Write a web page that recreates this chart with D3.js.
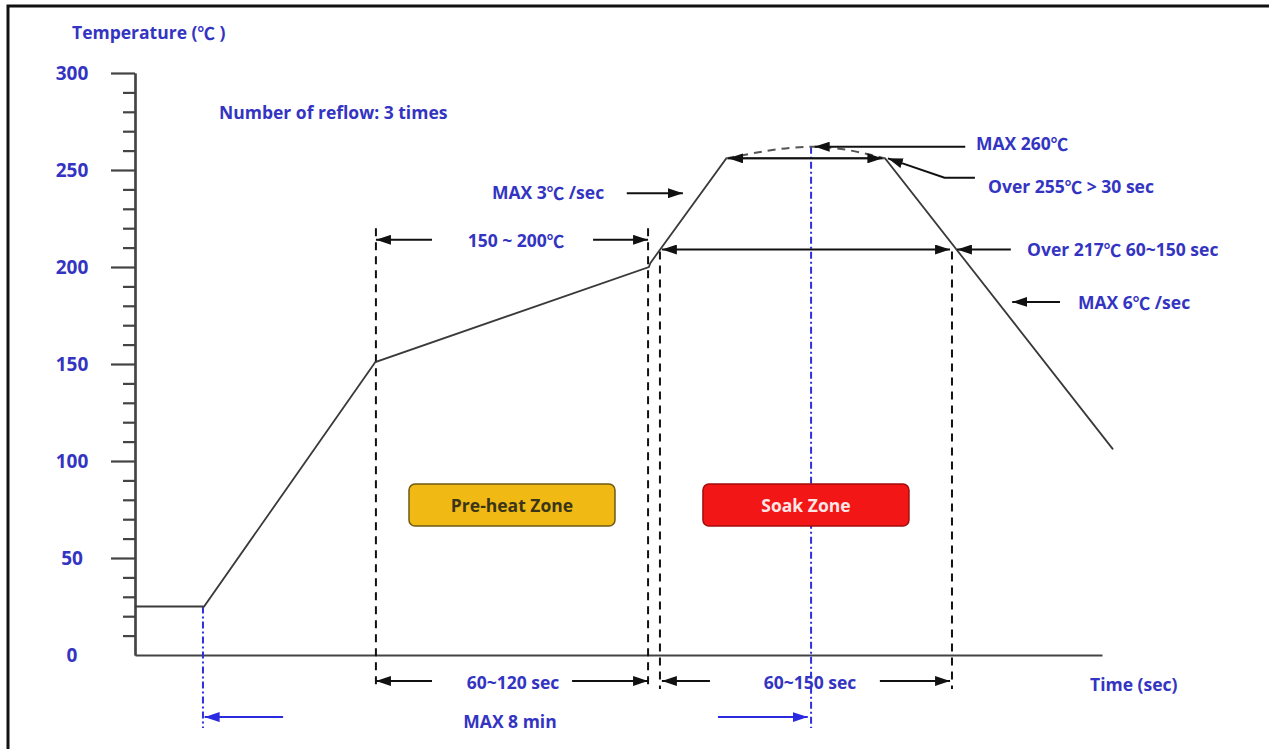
<!DOCTYPE html>
<html>
<head>
<meta charset="utf-8">
<script src="https://cdn.jsdelivr.net/npm/d3@7"></script>
<style>
  body { margin: 0; background: #fff; }
  #chart { width: 1269px; height: 749px; }
  .lbl { font-family: "Open Sans", "Noto Sans CJK SC", sans-serif; font-weight: 700; fill: #3434c2; }
  .deg { font-family: "Noto Sans CJK SC", sans-serif; font-weight: 700; }
</style>
</head>
<body>
<div id="chart"></div>
<script>
// reflow profile, time in sec (arbitrary scale), temp in deg C
const profileTime = [0, 25, 87, 186, 186.5, 214, 271.5, 354]
const profileTemp = [25, 25, 151, 200, 202, 256, 256, 106]

// dashed peak arc above the 255 plateau
const peakTime = [214, 245, 271.5]
const peakTemp = [256, 262, 256]

// zone borders (sec)
const preheatZone = [87.2, 185.7]
const liquidusZone = [190, 295.7]
const maxWindow = [24.6, 244.7]   // "MAX 8 min" markers

// y axis ticks
const majorTicks = [0, 50, 100, 150, 200, 250, 300]
const minorTicks = d3.range(10, 300, 10).filter(d => d % 50 !== 0)

class ReflowChart {
    constructor(parentElement) {
        this.parentElement = parentElement
        this.initVis()
    }

    initVis() {
        let vis = this

        vis.width = 1269
        vis.height = 749

        vis.svg = d3.select("#" + vis.parentElement).append("svg")
            .attr("width", vis.width)
            .attr("height", vis.height)

        // frame (only top + left visible in the picture)
        vis.svg.append("path")
            .attr("d", "M8,749 V6 H1269")
            .attr("fill", "none")
            .attr("stroke", "#111")
            .attr("stroke-width", 3)

        vis.x = d3.scaleLinear().domain([0, 350]).range([135, 1102])
        vis.y = d3.scaleLinear().domain([0, 300]).range([655, 73])

        // arrow markers
        let defs = vis.svg.append("defs")
        let addMarker = (id, color) => {
            defs.append("marker")
                .attr("id", id)
                .attr("viewBox", "0 0 15 10")
                .attr("refX", 15).attr("refY", 5)
                .attr("markerWidth", 15).attr("markerHeight", 10)
                .attr("markerUnits", "userSpaceOnUse")
                .attr("orient", "auto-start-reverse")
                .append("path")
                .attr("d", "M0,0 L15,5 L0,10 z")
                .attr("fill", color)
        }
        addMarker("arr", "#111")
        addMarker("arrBlue", "#2a2ae0")

        vis.wrangleData()
    }

    wrangleData() {
        let vis = this
        vis.profile = profileTime.map((t, i) => ({t: t, temp: profileTemp[i]}))
        vis.peak = peakTime.map((t, i) => ({t: t, temp: peakTemp[i]}))
        vis.updateVis()
    }

    updateVis() {
        let vis = this
        let x = vis.x, y = vis.y

        // axes
        let yMinor = d3.axisLeft(y).tickValues(minorTicks).tickSize(12).tickSizeOuter(0).tickFormat("")
        let yMajor = d3.axisLeft(y).tickValues(majorTicks).tickSize(24).tickSizeOuter(0)
        let xAxis = d3.axisBottom(x).tickValues([]).tickSizeOuter(0)

        vis.svg.append("g")
            .attr("transform", "translate(" + x(0) + ",0)")
            .call(yMinor)
            .call(g => g.selectAll("line, path").attr("stroke", "#444").attr("stroke-width", 2.2))

        let gy = vis.svg.append("g")
            .attr("transform", "translate(" + x(0) + ",0)")
            .call(yMajor)
        gy.selectAll("line, path").attr("stroke", "#444").attr("stroke-width", 2.2)
        gy.selectAll(".tick").filter(d => d === 0).select("line").remove()
        gy.selectAll(".tick text")
            .attr("class", "lbl")
            .attr("x", -63)
            .attr("text-anchor", "middle")
            .attr("font-size", 19)
            .attr("dy", "0.35em")

        vis.svg.append("g")
            .attr("transform", "translate(0," + y(0) + ")")
            .call(xAxis)
            .call(g => g.select("path").attr("stroke", "#444").attr("stroke-width", 2.2))

        // zone boundaries, dashed black
        let vDash = [
            {t: preheatZone[0], top: 220}, {t: preheatZone[1], top: 220},
            {t: liquidusZone[0], top: 208}, {t: liquidusZone[1], top: 208}
        ]
        vis.svg.selectAll(".vdash")
            .data(vDash)
            .enter().append("line")
            .attr("x1", d => x(d.t)).attr("x2", d => x(d.t))
            .attr("y1", d => y(d.top)).attr("y2", y(-17.5))
            .attr("stroke", "#111")
            .attr("stroke-width", 2)
            .attr("stroke-dasharray", "8,6")

        // blue dash-dot markers
        let blueTop = [25, 262]
        vis.svg.selectAll(".bdash")
            .data(maxWindow)
            .enter().append("line")
            .attr("x1", d => x(d)).attr("x2", d => x(d))
            .attr("y1", (d, i) => y(blueTop[i])).attr("y2", y(-37.6))
            .attr("stroke", "#3030dd")
            .attr("stroke-width", 2)
            .attr("stroke-dasharray", "7,3,2,3")

        // profile
        let line = d3.line().x(d => x(d.t)).y(d => y(d.temp))
        vis.svg.append("path")
            .datum(vis.profile)
            .attr("d", line)
            .attr("fill", "none")
            .attr("stroke", "#3a3a3a")
            .attr("stroke-width", 1.8)

        vis.svg.append("path")
            .datum(vis.peak)
            .attr("d", line.curve(d3.curveNatural))
            .attr("fill", "none")
            .attr("stroke", "#555")
            .attr("stroke-width", 2)
            .attr("stroke-dasharray", "8,6")

        // horizontal annotation arrows [t1, t2, temp, twoHeads]
        let arrows = [
            [107.5, preheatZone[0], 214, false],
            [165.8, preheatZone[1], 214, false],
            [liquidusZone[0] + 0.7, liquidusZone[1] - 0.7, 209, true],
            [214.7, 270.5, 256, true],
            [107.5, preheatZone[0], -13.4, false],
            [158.2, preheatZone[1], -13.4, false],
            [208.1, liquidusZone[0] + 0.7, -13.4, false],
            [269.6, liquidusZone[1] - 0.7, -13.4, false],
            [178, 198.3, 238, false],
            [300.5, 246, 262, false],
            [317, 297.5, 209, false],
            [334.8, 317.5, 182, false]
        ]
        vis.svg.selectAll(".arr")
            .data(arrows)
            .enter().append("line")
            .attr("x1", d => x(d[0])).attr("x2", d => x(d[1]))
            .attr("y1", d => y(d[2])).attr("y2", d => y(d[2]))
            .attr("stroke", "#111")
            .attr("stroke-width", 2)
            .attr("marker-end", "url(#arr)")
            .attr("marker-start", d => d[3] ? "url(#arr)" : null)

        // bent pointer to the 255 plateau end
        vis.svg.append("path")
            .datum([[304, 246], [293, 246], [272.5, 256]])
            .attr("d", d3.line().x(d => x(d[0])).y(d => y(d[1])))
            .attr("fill", "none")
            .attr("stroke", "#111")
            .attr("stroke-width", 2)
            .attr("marker-end", "url(#arr)")

        // blue "MAX 8 min" arrows
        let blueArrows = [[53.6, maxWindow[0] + 0.6], [211, maxWindow[1] - 1.2]]
        vis.svg.selectAll(".barr")
            .data(blueArrows)
            .enter().append("line")
            .attr("x1", d => x(d[0])).attr("x2", d => x(d[1]))
            .attr("y1", y(-32)).attr("y2", y(-32))
            .attr("stroke", "#2a2ae0")
            .attr("stroke-width", 2)
            .attr("marker-end", "url(#arrBlue)")

        // zone boxes
        let boxes = [
            {zone: preheatZone, label: "Pre-heat Zone", fill: "#f0b913", stroke: "#6e5a14", text: "#3b3518"},
            {zone: liquidusZone, label: "Soak Zone", fill: "#f21616", stroke: "#a30d0d", text: "#ffe6e6"}
        ]
        let bx = vis.svg.selectAll(".box")
            .data(boxes)
            .enter().append("g")
            .attr("transform", d => "translate(" + (x((d.zone[0] + d.zone[1]) / 2) - 103) + ",484)")
        bx.append("rect")
            .attr("width", 206).attr("height", 42)
            .attr("rx", 6)
            .attr("fill", d => d.fill)
            .attr("stroke", d => d.stroke)
            .attr("stroke-width", 1.5)
        bx.append("text")
            .attr("class", "lbl")
            .attr("x", 103).attr("y", 21)
            .attr("text-anchor", "middle")
            .attr("dominant-baseline", "central")
            .attr("font-size", 17.5)
            .style("fill", d => d.text)
            .text(d => d.label)

        // labels
        let labels = [
            {text: "Temperature (℃ )", x: 72, y: 32, anchor: "start"},
            {text: "Number of reflow: 3 times", x: 219, y: 112, anchor: "start"},
            {text: "MAX 3℃ /sec", x: 492, y: 192, anchor: "start"},
            {text: "150 ~ 200℃", x: 516, y: 240, anchor: "middle"},
            {text: "MAX 260℃", x: 976, y: 143, anchor: "start"},
            {text: "Over 255℃ > 30 sec", x: 988, y: 186, anchor: "start"},
            {text: "Over 217℃ 60~150 sec", x: 1027, y: 249, anchor: "start"},
            {text: "MAX 6℃ /sec", x: 1078, y: 302, anchor: "start"},
            {text: "60~120 sec", x: 513, y: 682, anchor: "middle"},
            {text: "60~150 sec", x: 810, y: 682, anchor: "middle"},
            {text: "Time (sec)", x: 1090, y: 684, anchor: "start"},
            {text: "MAX 8 min", x: 510, y: 721, anchor: "middle"}
        ]
        let txt = vis.svg.selectAll(".txt")
            .data(labels)
            .enter().append("text")
            .attr("class", "lbl")
            .attr("x", d => d.x).attr("y", d => d.y)
            .attr("text-anchor", d => d.anchor)
            .attr("dominant-baseline", "central")
            .attr("font-size", 17.5)

        // the degree sign is a full-width glyph in the original, so give it its own tspan
        txt.each(function(d) {
            let el = d3.select(this)
            d.text.split(/(℃)/).filter(s => s.length).forEach(part => {
                el.append("tspan")
                    .attr("class", part === "℃" ? "deg" : null)
                    .text(part)
            })
        })
    }
}

new ReflowChart("chart")
</script>
</body>
</html>
